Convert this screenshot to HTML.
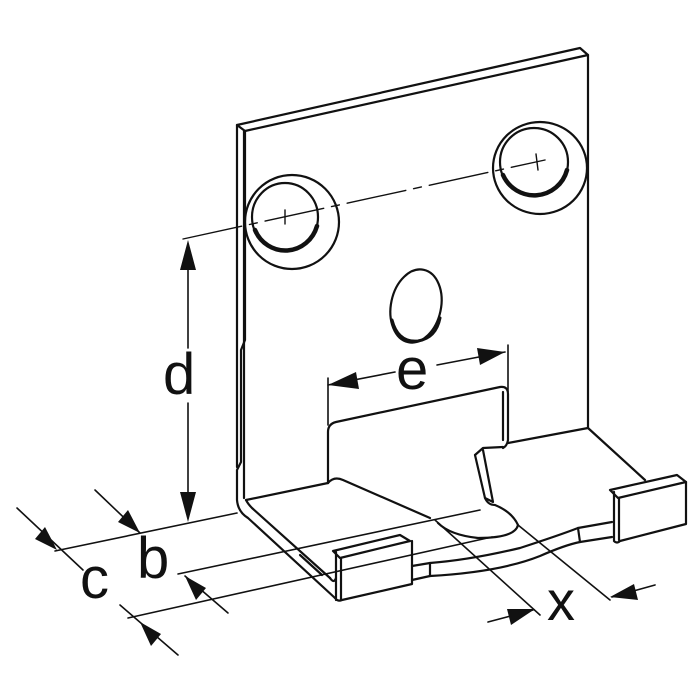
<!DOCTYPE html>
<html><head><meta charset="utf-8"><style>
html,body{margin:0;padding:0;background:#fff;width:700px;height:700px;overflow:hidden}
svg{display:block}
text{font-family:"Liberation Sans",sans-serif;fill:#111;stroke:none;font-weight:normal}
</style></head><body>
<svg width="700" height="700" viewBox="0 0 700 700" fill="none" stroke="#111" stroke-width="2.2" stroke-linejoin="round" stroke-linecap="round">
<!-- back plate -->
<path d="M237,467 L237,125 L580,48 L588,55 L588,428"/>
<path d="M237,125 L245,131 L588,55"/>
<path d="M245,131 L245,340 L241,350 L241,462 L237,470 L237,500 Q238,512 248,518 L335,598"/>
<path d="M244,131 L244,498"/>
<path d="M246,500 L328,483"/>
<path d="M246,500 Q248,504 252,508 L330,578"/>
<path d="M300,555 L322,575"/>
<!-- tongue -->
<path d="M328,483 L328,432 Q328,424 336,422 L500,387 Q508,386 508,394 L508,440 Q507,446 503,448"/>
<path d="M503,392 L503,440"/>
<path d="M328,483 Q334,476 343,480 L430,518"/>
<!-- right floor -->
<path d="M508,443 L588,428 L645,480"/>
<!-- cutout -->
<path d="M475,455 L483,448 L503,447"/>
<path d="M475,455 L485,498 L493,502 L483,450"/>
<path d="M485,498 Q488,505 495,505 Q512,512 518,525 Q515,538 478,538 Q450,535 438,523"/>
<!-- left tab -->
<path d="M333,551 L400,535 L410,541 L340,558 Z"/>
<path d="M336,552 L336,600 M341,558 L341,600 M335,598 Q338,602 342,600 L412,584 L412,541"/>
<path d="M330,578 Q334,584 336,578"/>
<!-- rim -->
<path d="M412,566 L430,563 Q470,560 520,548 Q560,535 578,528 L612,522"/>
<path d="M412,580 L430,576 Q500,572 540,556 Q565,545 580,542 L612,537"/>
<path d="M430,563 L430,576 M578,528 L580,542"/>
<!-- right tab -->
<path d="M610,490 L677,475 L686,482 L618,498 Z"/>
<path d="M614,492 L614,540 M619,498 L619,540 M614,541 Q617,544 620,541 L686,524 L686,482"/>
<!-- holes -->
<ellipse cx="292" cy="222" rx="47" ry="47"/>
<ellipse cx="285" cy="217" rx="33" ry="34"/>
<path d="M255,230 A33,34 0 0 0 317,226" stroke-width="4.5"/>
<ellipse cx="540" cy="168" rx="47" ry="46"/>
<ellipse cx="534" cy="162" rx="34" ry="34"/>
<path d="M503,175 A34,34 0 0 0 567,170" stroke-width="4.5"/>
<!-- slot -->
<ellipse cx="416" cy="306" rx="25" ry="37" transform="rotate(12 416 306)"/>
<path d="M392,320 Q398,343 418,341 Q436,338 440,318" stroke-width="3"/>
<!-- centerline -->
<path d="M183,239 L545,160" stroke-width="1.4" stroke-dasharray="60,8,8,8"/>
<path d="M285,210 L285,224 M536,154 L538,170" stroke-width="1.4"/>
<!-- dimensions -->
<g stroke-width="1.6">
<path d="M188,262 L188,348 M188,403 L188,505"/>
<path d="M55,551 L237,513"/>
<path d="M95,490 L140,533"/>
<path d="M17,508 L83,570"/>
<path d="M178,574 L480,510"/>
<path d="M185,576 L228,613"/>
<path d="M128,618 L492,537"/>
<path d="M120,605 L178,655"/>
<path d="M328,378 L328,425 M508,345 L508,392"/>
<path d="M328,385 L395,372 M437,365 L505,352"/>
<path d="M435,520 L540,615 M518,525 L610,600"/>
<path d="M488,622 L533,610 M655,585 L612,597"/>
</g>
<g fill="#111" stroke="none">
<polygon points="188,240 180,270 196,270"/>
<polygon points="188,522 180,492 196,492"/>
<polygon points="140,533 118,522 128,510"/>
<polygon points="57,550 35,539 45,527"/>
<polygon points="185,576 206,588 196,600"/>
<polygon points="140,622 161,634 151,646"/>
<polygon points="328,385 356,372 359,389"/>
<polygon points="505,352 477,348 480,365"/>
<polygon points="535,609 507,609 511,625"/>
<polygon points="610,597 634,584 638,600"/>
</g>
<text x="163" y="394" font-size="58">d</text>
<text x="396" y="389" font-size="58">e</text>
<text x="137" y="578" font-size="58">b</text>
<text x="80" y="598" font-size="58">c</text>
<text x="547" y="620" font-size="56">x</text>
</svg>
</body></html>
